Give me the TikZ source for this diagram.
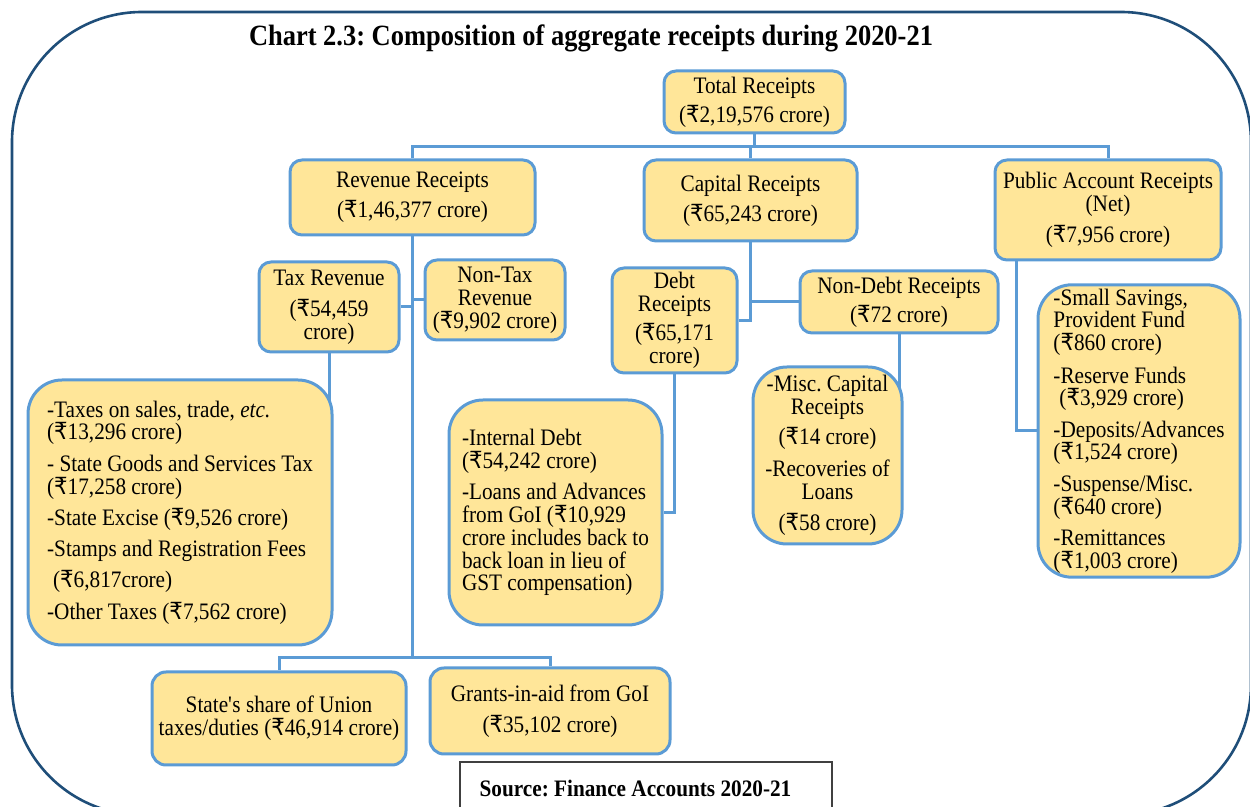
\documentclass[tikz,border=0pt]{standalone}
\usepackage{fontspec}
\setmainfont{Liberation Serif}[FakeStretch=0.9]
\newfontfamily\rupfont{DejaVu Sans}[FakeStretch=0.9]
\usetikzlibrary{backgrounds}
\definecolor{boxfill}{RGB}{255,230,153}
\definecolor{boxline}{RGB}{91,155,213}
\definecolor{framecol}{RGB}{31,78,121}
\newcommand{\Rs}{\iffontchar\font"20B9 ₹\else{\rupfont ₹}\fi}
\newcommand{\bodyfont}{\fontsize{11.8}{11.4}\selectfont}
\frenchspacing

\begin{document}
\begin{tikzpicture}[x=0.5pt, y=-0.5pt,
	box/.style={draw=boxline, fill=boxfill, line width=1.5pt, rounded corners=6pt, align=center, font=\bodyfont, inner sep=2pt},
	listbox/.style={box, rounded corners=17pt, align=left},
	link/.style={boxline, line width=1.5pt}]
	\useasboundingbox (0,0) rectangle (1250,807);
	\draw[framecol, line width=1.3pt, rounded corners=65pt] (12,12) rectangle (1251,815);
	\node[font=\bfseries\fontsize{14.7}{16}\selectfont] (title) at (591,38) {Chart 2.3: Composition of aggregate receipts during 2020-21};
	% top level
	\node[box, minimum width=90.5pt, minimum height=31pt] (total) at (754.5,102) {Total Receipts\\[3.25pt](\Rs2,19,576 crore)};
	\node[box, minimum width=122.5pt, minimum height=37.5pt] (revenue) at (412.5,197.5) {Revenue Receipts\\[3.75pt](\Rs1,46,377 crore)};
	\node[box, minimum width=106.5pt, minimum height=40.5pt] (capital) at (750.5,200.5) {Capital Receipts\\[3.75pt](\Rs65,243 crore)};
	\node[box, minimum width=113pt, minimum height=50pt] (publicacc) at (1108,210) {Public Account Receipts\\(Net)\\[4.25pt](\Rs7,956 crore)};
	% second level
	\node[box, minimum width=70pt, minimum height=45pt] (taxrev) at (329,307) {Tax Revenue\\[4.25pt](\Rs54,459\\crore)};
	\node[box, minimum width=70pt, minimum height=40pt] (nontax) at (495,300) {Non-Tax\\Revenue\\(\Rs9,902 crore)};
	\node[box, minimum width=62.5pt, minimum height=52.5pt] (debt) at (674.5,320.5) {Debt\\Receipts\\[3.25pt](\Rs65,171\\crore)};
	\node[box, minimum width=99pt, minimum height=31pt] (nondebt) at (899,302) {Non-Debt Receipts\\[3.25pt](\Rs72 crore)};
	% detail boxes
	\node[listbox, minimum width=152pt, minimum height=132.5pt] (taxlist) at (180,512.5) {-Taxes on sales, trade, \textit{etc.}\\(\Rs13,296 crore)\\[4.25pt]- State Goods and Services Tax\\(\Rs17,258 crore)\\[4.25pt]-State Excise (\Rs9,526 crore)\\[4.25pt]-Stamps and Registration Fees\\[4.25pt]\hspace*{3pt}(\Rs6,817crore)\\[4.25pt]-Other Taxes (\Rs7,562 crore)};
	\node[listbox, minimum width=106.5pt, minimum height=112.5pt] (debtlist) at (555.5,512.5) {-Internal Debt\\(\Rs54,242 crore)\\[4.25pt]-Loans and Advances\\from GoI (\Rs10,929\\crore includes back to\\back loan in lieu of\\GST compensation)};
	\node[box, rounded corners=17pt, minimum width=74.5pt, minimum height=88.5pt] (misc) at (827.5,455.5) {-Misc. Capital\\Receipts\\[3.25pt](\Rs14 crore)\\[4.75pt]-Recoveries of\\Loans\\[4.25pt](\Rs58 crore)};
	\node[listbox, minimum width=101pt, minimum height=144pt] (publist) at (1139,431) {-Small Savings,\\Provident Fund\\(\Rs860 crore)\\[4.75pt]-Reserve Funds\\\hspace*{3pt}(\Rs3,929 crore)\\[4.25pt]-Deposits/Advances\\(\Rs1,524 crore)\\[4.25pt]-Suspense/Misc.\\(\Rs640 crore)\\[4.25pt]-Remittances\\(\Rs1,003 crore)};
	\node[box, rounded corners=7pt, minimum width=127pt, minimum height=46.5pt] (share) at (279,718.5) {State\textquotesingle s share of Union\\taxes/duties (\Rs46,914 crore)};
	\node[box, rounded corners=7pt, minimum width=120pt, minimum height=43pt] (grants) at (550,711) {Grants-in-aid from GoI\\[4.25pt](\Rs35,102 crore)};
	\node[draw=black!75, line width=0.8pt, minimum width=186pt, minimum height=26pt, font=\bfseries\bodyfont] (source) at (646,788) {Source: Finance Accounts 2020-21\hspace*{10.5pt}};
	% connectors
	\begin{scope}[on background layer]
		\coordinate (bustop) at (0,147);
		\coordinate (buslow) at (0,658);
		\draw[link] (total.south) -- (total.south |- bustop);
		\draw[link] (revenue.north) |- (publicacc.north |- bustop) -- (publicacc.north);
		\draw[link] (capital.north) -- (capital.north |- bustop);
		\draw[link] (revenue.south) -- (revenue.south |- buslow);
		\draw[link] (share.north) |- (grants.north |- buslow) -- (grants.north);
		\draw[link] (taxrev.east) -- (taxrev.east -| revenue.south);
		\draw[link] (nontax.west) -- (nontax.west -| revenue.south);
		\draw[link] (taxrev.south) -- (taxrev.south |- taxlist.center);
		\draw[link] (capital.south) |- (debt.east);
		\draw[link] (nondebt.west) -- (nondebt.west -| capital.south);
		\draw[link] (debt.south) |- (debtlist.east);
		\draw[link] (nondebt.south) -- (nondebt.south |- misc.center);
		\draw[link] ([xshift=11.5pt]publicacc.south west) |- (publist.west);
	\end{scope}
\end{tikzpicture}
\end{document}
